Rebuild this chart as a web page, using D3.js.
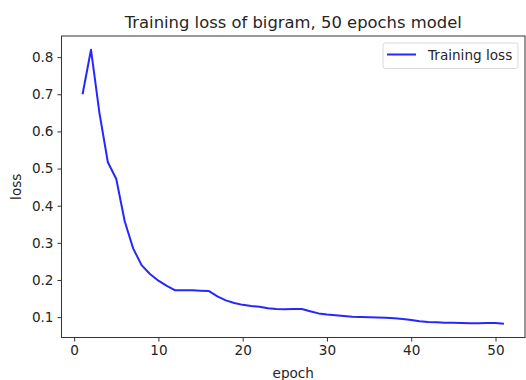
<!DOCTYPE html>
<html>
<head>
<meta charset="utf-8">
<script src="https://cdn.jsdelivr.net/npm/d3@7"></script>
<style>
  html, body { margin: 0; padding: 0; background: #fff; }
  svg { display: block; font-family: "DejaVu Sans", sans-serif; }
</style>
</head>
<body>
<svg id="chart" width="526" height="380"></svg>
<script>
// Training loss per epoch (epochs 1..51)
const epochs = d3.range(1, 52);
const trainingLoss = [
  0.700, 0.820, 0.650, 0.517, 0.472, 0.358, 0.285, 0.240, 0.216, 0.198,
  0.184, 0.172, 0.172, 0.172, 0.171, 0.170, 0.156, 0.145, 0.138, 0.133,
  0.130, 0.128, 0.124, 0.122, 0.121, 0.122, 0.122, 0.116, 0.110, 0.107,
  0.105, 0.103, 0.101, 0.100, 0.0995, 0.099, 0.098, 0.097, 0.095, 0.092,
  0.089, 0.087, 0.086, 0.085, 0.0845, 0.084, 0.0835, 0.0835, 0.084, 0.084,
  0.082
];
const xTicks = [0, 10, 20, 30, 40, 50];
const yTicks = [0.1, 0.2, 0.3, 0.4, 0.5, 0.6, 0.7, 0.8];
const titleText = "Training loss of bigram, 50 epochs model";
const seriesName = "Training loss";

const svg = d3.select("#chart");
const plot = { left: 61.5, right: 525, top: 36, bottom: 337.5 };
const tickFont = "13.6px";
const titleFont = "16.4px";

// matplotlib-style 5% data margins
const [yMin, yMax] = d3.extent(trainingLoss);
const yPad = (yMax - yMin) * 0.05;
const xPad = (epochs[epochs.length - 1] - epochs[0]) * 0.05;

const x = d3.scaleLinear()
  .domain([epochs[0] - xPad, epochs[epochs.length - 1] + xPad])
  .range([plot.left, plot.right]);
const y = d3.scaleLinear()
  .domain([yMin - yPad, yMax + yPad])
  .range([plot.bottom, plot.top]);

// Axes
const xAxis = svg.append("g")
  .attr("transform", `translate(0,${plot.bottom})`)
  .call(d3.axisBottom(x).tickValues(xTicks).tickFormat(d3.format("d")).tickSize(4).tickPadding(4));
const yAxis = svg.append("g")
  .attr("transform", `translate(${plot.left},0)`)
  .call(d3.axisLeft(y).tickValues(yTicks).tickFormat(d3.format(".1f")).tickSize(4).tickPadding(4));

[xAxis, yAxis].forEach(g => {
  g.select(".domain").remove();
  g.selectAll(".tick line").attr("stroke", "#333").attr("stroke-width", 1);
  g.selectAll(".tick text")
    .attr("fill", "#262626")
    .style("font-size", tickFont)
    .style("font-family", "DejaVu Sans, sans-serif");
});

// Frame
svg.append("rect")
  .attr("x", plot.left).attr("y", plot.top)
  .attr("width", plot.right - plot.left).attr("height", plot.bottom - plot.top)
  .attr("fill", "none").attr("stroke", "#333").attr("stroke-width", 1);

// Loss line
const line = d3.line()
  .x((d, i) => x(epochs[i]))
  .y(d => y(d));
svg.append("path")
  .datum(trainingLoss)
  .attr("d", line)
  .attr("fill", "none")
  .attr("stroke", "#0000ff")
  .attr("stroke-opacity", 0.85)
  .attr("stroke-width", 2)
  .attr("stroke-linejoin", "round")
  .attr("stroke-linecap", "butt");

// Title and axis labels
svg.append("text")
  .attr("x", (plot.left + plot.right) / 2).attr("y", 28)
  .attr("text-anchor", "middle")
  .attr("fill", "#262626")
  .style("font-size", titleFont)
  .text(titleText);

svg.append("text")
  .attr("x", (plot.left + plot.right) / 2).attr("y", 378)
  .attr("text-anchor", "middle")
  .attr("fill", "#262626")
  .style("font-size", tickFont)
  .text("epoch");

svg.append("text")
  .attr("transform", `translate(21,${(plot.top + plot.bottom) / 2}) rotate(-90)`)
  .attr("text-anchor", "middle")
  .attr("fill", "#262626")
  .style("font-size", tickFont)
  .text("loss");

// Legend
const legend = svg.append("g").attr("transform", "translate(383,43)");
legend.append("rect")
  .attr("width", 135).attr("height", 25.5)
  .attr("rx", 2.5)
  .attr("fill", "#fff").attr("fill-opacity", 0.8)
  .attr("stroke", "#d9d9d9").attr("stroke-width", 1);
legend.append("line")
  .attr("x1", 4).attr("x2", 33).attr("y1", 11.5).attr("y2", 11.5)
  .attr("stroke", "#0000ff").attr("stroke-opacity", 0.85).attr("stroke-width", 2);
legend.append("text")
  .attr("x", 45).attr("y", 16.5)
  .attr("fill", "#262626")
  .style("font-size", tickFont)
  .text(seriesName);
</script>
</body>
</html>
